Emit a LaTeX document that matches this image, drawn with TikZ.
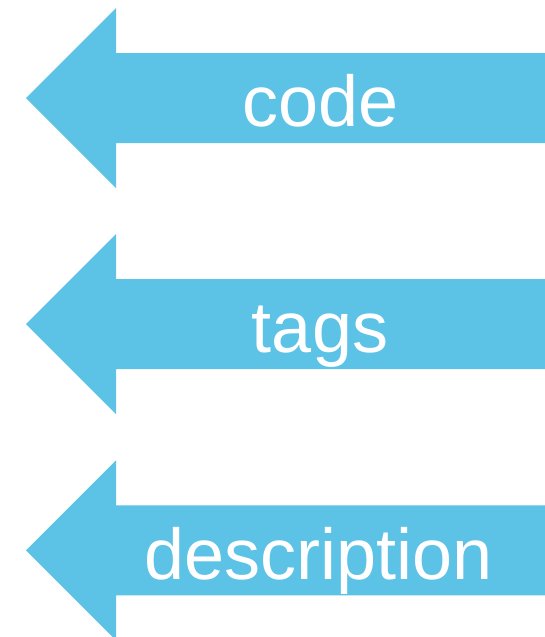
\documentclass[tikz,border=0pt]{standalone}
\usepackage{fontspec}
\setmainfont{Liberation Sans}
\definecolor{arrowblue}{RGB}{92,194,230}
\begin{document}
\begin{tikzpicture}[x=1pt,y=1pt,
  blockarrow/.style={fill=arrowblue,draw=none},
  lbl/.style={text=white,anchor=base,inner sep=0pt,font=\fontsize{72}{80}\selectfont}]
\useasboundingbox (0,0) rectangle (545,-637);
\foreach \k/\name in {0/a1,1/a2,2/a3}{
  \pgfmathsetmacro{\cy}{-98-226.2*\k}
  \fill[blockarrow] (26,\cy) -- (116,\cy+90) -- (116,\cy+45) -- (545,\cy+45)
     -- (545,\cy-45) -- (116,\cy-45) -- (116,\cy-90) -- cycle;
}
\node[lbl] (t1) at (320.5,-126) {code};
\node[lbl] (t2) at (320,-352.5) {tags};
\node[lbl] (t3) at (319,-579) {description};
\end{tikzpicture}
\end{document}
